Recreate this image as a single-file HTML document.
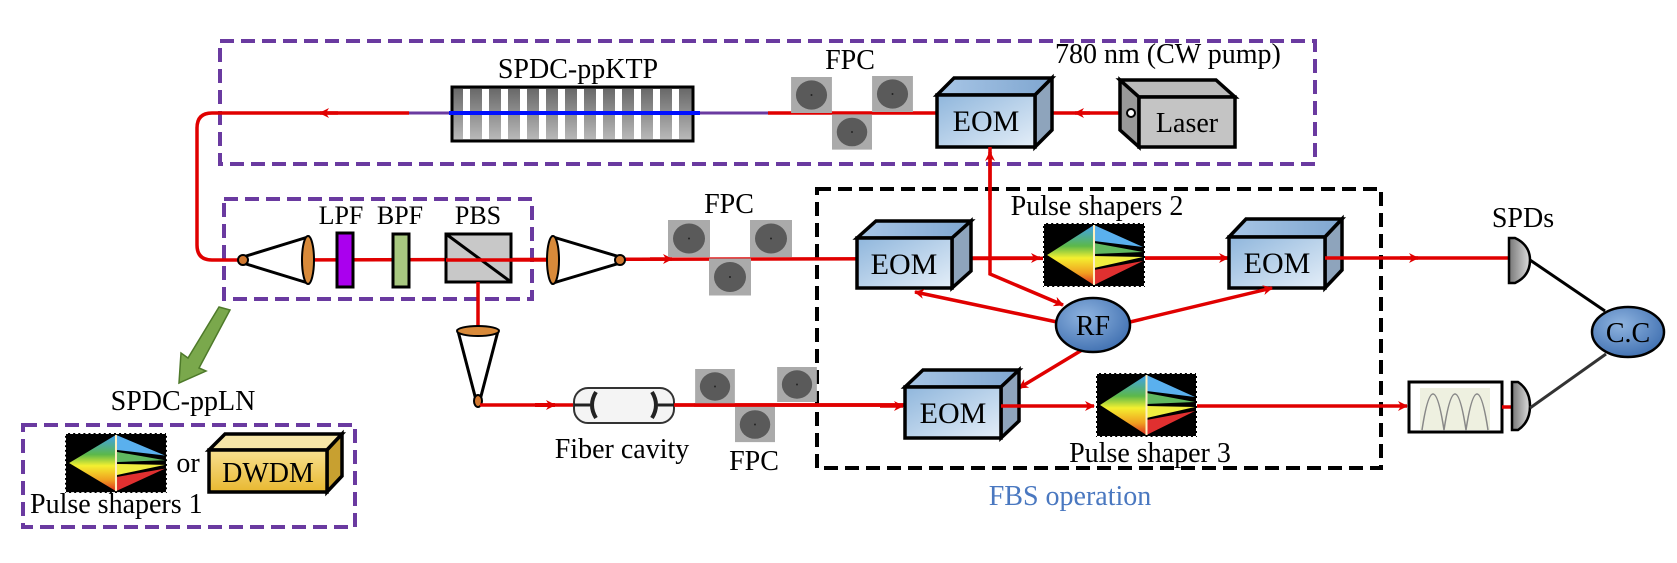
<!DOCTYPE html>
<html><head><meta charset="utf-8"><style>body{margin:0;background:#fff}svg{display:block}</style></head>
<body>
<svg width="1677" height="563" viewBox="0 0 1677 563" xmlns="http://www.w3.org/2000/svg" font-family="'Liberation Serif', 'DejaVu Serif', serif">
<defs>
<linearGradient id="eom" x1="0" y1="0" x2="1" y2="1"><stop offset="0" stop-color="#8fb6dc"/><stop offset="1" stop-color="#e4eef8"/></linearGradient>
<linearGradient id="eomt" x1="0" y1="0" x2="1" y2="0"><stop offset="0" stop-color="#a8c6e6"/><stop offset="1" stop-color="#7fa6d0"/></linearGradient>
<linearGradient id="dia" x1="0" y1="0" x2="0" y2="1"><stop offset="0" stop-color="#3fa0f0"/><stop offset="0.35" stop-color="#5cb84a"/><stop offset="0.55" stop-color="#f4f030"/><stop offset="0.8" stop-color="#f0a020"/><stop offset="1" stop-color="#e03020"/></linearGradient>
<linearGradient id="gry" x1="0" y1="0" x2="0" y2="1"><stop offset="0" stop-color="#666"/><stop offset="1" stop-color="#bbb"/></linearGradient>
<linearGradient id="dw" x1="0" y1="0" x2="0" y2="1"><stop offset="0" stop-color="#f8e090"/><stop offset="1" stop-color="#e8b830"/></linearGradient>
<radialGradient id="blue" cx="0.4" cy="0.35" r="0.7"><stop offset="0" stop-color="#8fb4e0"/><stop offset="1" stop-color="#3f6fb0"/></radialGradient>
<linearGradient id="spd" x1="0" y1="0" x2="1" y2="0"><stop offset="0" stop-color="#777"/><stop offset="1" stop-color="#ddd"/></linearGradient>
<symbol id="shaper" viewBox="0 0 100 64" preserveAspectRatio="none">
<rect x="0" y="0" width="100" height="64" fill="#000" stroke="#fff" stroke-width="2" stroke-dasharray="3 2"/>
<polygon points="4,32 50,2 50,62" fill="url(#dia)"/>
<polygon points="50,2 98,24 50,18" fill="#5ab0ee"/>
<polygon points="50,20 98,29 50,31" fill="#60b860"/>
<polygon points="50,33 98,34 50,45" fill="#f0ee40"/>
<polygon points="50,47 98,38 50,62" fill="#e03030"/>
<line x1="50" y1="2" x2="50" y2="62" stroke="#fff0c0" stroke-width="2"/>
</symbol>
<symbol id="fpc" viewBox="0 0 42 37"><rect width="42" height="37" fill="#aaa"/><ellipse cx="21" cy="18.5" rx="16" ry="15" fill="#5a5a5a"/><circle cx="21" cy="18.5" r="1" fill="#222"/></symbol>
<marker id="ar" markerWidth="10" markerHeight="10" refX="9" refY="5" orient="auto" markerUnits="userSpaceOnUse"><path d="M0,0 L10,5 L0,10 L3,5 Z" fill="#e00000"/></marker>
</defs>

<g fill="none" stroke="#6a3aa0" stroke-width="4" stroke-dasharray="14 7">
<rect x="220" y="41" width="1095" height="123"/>
<rect x="224" y="199" width="308" height="100"/>
<rect x="23" y="425" width="332" height="102"/>
</g>
<rect x="817" y="189" width="564" height="279" fill="none" stroke="#000" stroke-width="4" stroke-dasharray="14 7"/>

<path d="M1120,113 L768,113" stroke="#e00000" stroke-width="3.5" fill="none"/>
<path d="M409,113 L212,113 Q197,113 197,128 L197,245 Q197,260 212,260 L243,260" stroke="#e00000" stroke-width="3.5" fill="none"/>
<line x1="409" y1="113" x2="768" y2="113" stroke="#6a3aa0" stroke-width="3"/>
<path d="M338,113 L320,113" stroke="#e00000" stroke-width="3.5" marker-end="url(#ar)"/>
<path d="M1090,113 L1075,113" stroke="#e00000" stroke-width="3.5" marker-end="url(#ar)"/>
<rect x="452" y="87" width="241" height="54" fill="url(#gry)" stroke="#000" stroke-width="3"/>
<g fill="#fff">
<rect x="463" y="89" width="7" height="50"/><rect x="482" y="89" width="7" height="50"/><rect x="501" y="89" width="7" height="50"/><rect x="520" y="89" width="7" height="50"/><rect x="539" y="89" width="7" height="50"/><rect x="558" y="89" width="7" height="50"/><rect x="577" y="89" width="7" height="50"/><rect x="596" y="89" width="7" height="50"/><rect x="615" y="89" width="7" height="50"/><rect x="634" y="89" width="7" height="50"/><rect x="653" y="89" width="7" height="50"/><rect x="672" y="89" width="7" height="50"/>
</g>
<line x1="449" y1="113" x2="700" y2="113" stroke="#0010ff" stroke-width="4"/>
<text x="578" y="78" font-size="28" text-anchor="middle">SPDC-ppKTP</text>
<use href="#fpc" x="790" y="77" width="43" height="36"/>
<use href="#fpc" x="872" y="76" width="41" height="36"/>
<use href="#fpc" x="832" y="113" width="40" height="38"/>
<text x="850" y="69" font-size="28" text-anchor="middle">FPC</text>
<text x="1055" y="63" font-size="28">780 nm (CW pump)</text>
<polygon points="937,95 954,78 1052,78 1035,95" fill="url(#eomt)" stroke="#000" stroke-width="3.5"/>
<polygon points="1035,95 1052,78 1052,130 1035,147" fill="#8ea4bc" stroke="#000" stroke-width="3.5"/>
<rect x="937" y="95" width="98" height="52" fill="url(#eom)" stroke="#000" stroke-width="3.5"/>
<text x="986" y="131" font-size="30" text-anchor="middle">EOM</text>
<polygon points="1120,80 1139,97 1139,147 1120,130" fill="#999" stroke="#000" stroke-width="3.5"/>
<polygon points="1120,80 1216,80 1235,97 1139,97" fill="#bbb" stroke="#000" stroke-width="3.5"/>
<rect x="1139" y="97" width="96" height="50" fill="#c4c4c4" stroke="#000" stroke-width="3.5"/>
<circle cx="1131" cy="113" r="4" fill="#fff" stroke="#000" stroke-width="2"/>
<text x="1187" y="132" font-size="28" text-anchor="middle">Laser</text>

<line x1="243" y1="260" x2="1229" y2="258" stroke="#e00000" stroke-width="3.5"/>
<polygon points="243,257 308,237 308,283 243,263" fill="#fff" stroke="#000" stroke-width="3"/>
<circle cx="243" cy="260" r="5" fill="#d07830" stroke="#000" stroke-width="2"/>
<ellipse cx="308" cy="260" rx="6" ry="24" fill="#d98a3a" stroke="#000" stroke-width="2"/>
<rect x="337" y="233" width="16" height="54" fill="#aa00ee" stroke="#000" stroke-width="3"/>
<rect x="393" y="234" width="16" height="53" fill="#a8c880" stroke="#000" stroke-width="3"/>
<rect x="446" y="234" width="65" height="48" fill="#c8c8c8" stroke="#000" stroke-width="3"/>
<line x1="446" y1="234" x2="511" y2="282" stroke="#000" stroke-width="3"/>
<line x1="446" y1="260" x2="553" y2="260" stroke="#e00000" stroke-width="3.5"/>
<text x="341" y="224" font-size="26" text-anchor="middle">LPF</text>
<text x="400" y="224" font-size="26" text-anchor="middle">BPF</text>
<text x="478" y="224" font-size="26" text-anchor="middle">PBS</text>
<polygon points="553,237 620,257 620,263 553,283" fill="#fff" stroke="#000" stroke-width="3"/>
<ellipse cx="553" cy="260" rx="6" ry="24" fill="#d98a3a" stroke="#000" stroke-width="2"/>
<circle cx="620" cy="260" r="5" fill="#d07830" stroke="#000" stroke-width="2"/>
<path d="M650,259 L672,259" stroke="#e00000" stroke-width="3.5" marker-end="url(#ar)"/>
<use href="#fpc" x="668" y="220" width="42" height="37"/>
<use href="#fpc" x="750" y="220" width="42" height="37"/>
<use href="#fpc" x="709" y="258" width="42" height="38"/>
<text x="729" y="213" font-size="28" text-anchor="middle">FPC</text>

<path d="M952,258 L1040,258" stroke="#e00000" stroke-width="3.5" marker-end="url(#ar)"/>
<path d="M1145,258 L1228,258" stroke="#e00000" stroke-width="3.5" marker-end="url(#ar)"/>
<polygon points="857,238 876,221 971,221 952,238" fill="url(#eomt)" stroke="#000" stroke-width="3.5"/>
<polygon points="952,238 971,221 971,271 952,288" fill="#8ea4bc" stroke="#000" stroke-width="3.5"/>
<rect x="857" y="238" width="95" height="50" fill="url(#eom)" stroke="#000" stroke-width="3.5"/>
<text x="904" y="274" font-size="30" text-anchor="middle">EOM</text>
<use href="#shaper" x="1043" y="223" width="102" height="64"/>
<text x="1097" y="215" font-size="28" text-anchor="middle">Pulse shapers 2</text>
<polygon points="1229,237 1246,219 1342,219 1325,237" fill="url(#eomt)" stroke="#000" stroke-width="3.5"/>
<polygon points="1325,237 1342,219 1342,270 1325,288" fill="#8ea4bc" stroke="#000" stroke-width="3.5"/>
<rect x="1229" y="237" width="96" height="51" fill="url(#eom)" stroke="#000" stroke-width="3.5"/>
<text x="1277" y="273" font-size="30" text-anchor="middle">EOM</text>
<line x1="1325" y1="258" x2="1509" y2="258" stroke="#e00000" stroke-width="3.5"/>
<path d="M1400,258 L1418,258" stroke="#e00000" stroke-width="3.5" marker-end="url(#ar)"/>
<text x="1523" y="227" font-size="28" text-anchor="middle">SPDs</text>
<path d="M1509,238 L1515,238 Q1530,245 1530,260 Q1530,276 1515,283 L1509,283 Z" fill="url(#spd)" stroke="#000" stroke-width="2.5"/>

<path d="M990,147 L990,274 L1063,305" fill="none" stroke="#e00000" stroke-width="3.5" marker-end="url(#ar)"/>
<path d="M990,200 L990,152" stroke="#e00000" stroke-width="3.5" marker-end="url(#ar)"/>
<path d="M1057,322 L915,292" stroke="#e00000" stroke-width="3.5" marker-end="url(#ar)"/>
<path d="M1130,322 L1272,288" stroke="#e00000" stroke-width="3.5" marker-end="url(#ar)"/>
<path d="M1082,350 L1019,388" stroke="#e00000" stroke-width="3.5" marker-end="url(#ar)"/>
<ellipse cx="1093" cy="325" rx="37" ry="27" fill="url(#blue)" stroke="#000" stroke-width="2.5"/>
<text x="1093" y="335" font-size="28" text-anchor="middle">RF</text>

<line x1="478" y1="282" x2="478" y2="330" stroke="#e00000" stroke-width="3.5"/>
<polygon points="458,331 498,331 480,400 476,400" fill="#fff" stroke="#000" stroke-width="3"/>
<ellipse cx="478" cy="331" rx="21" ry="5" fill="#d98a3a" stroke="#000" stroke-width="2"/>
<ellipse cx="478" cy="401" rx="4" ry="6" fill="#d07830" stroke="#000" stroke-width="2"/>
<line x1="480" y1="405" x2="905" y2="405" stroke="#e00000" stroke-width="3.5"/>
<path d="M535,405 L555,405" stroke="#e00000" stroke-width="4" marker-end="url(#ar)"/>
<rect x="574" y="388" width="100" height="35" rx="14" fill="#f4f4f4" stroke="#333" stroke-width="2"/>
<line x1="574" y1="405" x2="590" y2="405" stroke="#222" stroke-width="3"/>
<line x1="658" y1="405" x2="674" y2="405" stroke="#222" stroke-width="3"/>
<path d="M596,392 Q588,405 596,418 M652,392 Q660,405 652,418" stroke="#222" stroke-width="4" fill="none"/>
<text x="622" y="458" font-size="28" text-anchor="middle">Fiber cavity</text>
<line x1="674" y1="405" x2="905" y2="405" stroke="#e00000" stroke-width="3.5"/>
<use href="#fpc" x="694" y="369" width="42" height="35"/>
<use href="#fpc" x="776" y="367" width="42" height="35"/>
<use href="#fpc" x="735" y="404" width="40" height="41"/>
<line x1="694" y1="405" x2="905" y2="405" stroke="#e00000" stroke-width="3.5"/>
<text x="754" y="470" font-size="28" text-anchor="middle">FPC</text>
<path d="M880,406 L903,406" stroke="#e00000" stroke-width="3.5" marker-end="url(#ar)"/>
<polygon points="905,387 923,370 1019,370 1001,387" fill="url(#eomt)" stroke="#000" stroke-width="3.5"/>
<polygon points="1001,387 1019,370 1019,421 1001,438" fill="#8ea4bc" stroke="#000" stroke-width="3.5"/>
<rect x="905" y="387" width="96" height="51" fill="url(#eom)" stroke="#000" stroke-width="3.5"/>
<text x="953" y="423" font-size="30" text-anchor="middle">EOM</text>
<path d="M1001,406 L1094,406" stroke="#e00000" stroke-width="3.5" marker-end="url(#ar)"/>
<use href="#shaper" x="1096" y="373" width="101" height="64"/>
<text x="1150" y="462" font-size="28" text-anchor="middle">Pulse shaper 3</text>
<line x1="1197" y1="406" x2="1380" y2="406" stroke="#e00000" stroke-width="3.5"/>
<path d="M1380,406 L1407,406" stroke="#e00000" stroke-width="3.5" marker-end="url(#ar)"/>
<rect x="1409" y="382" width="93" height="50" fill="#fff" stroke="#000" stroke-width="3"/>
<rect x="1420" y="388" width="70" height="42" fill="#eef0e0"/>
<path d="M1422,430 Q1433,358 1444,430 Q1455,358 1466,430 Q1477,358 1488,430" fill="none" stroke="#888" stroke-width="1.5"/>
<line x1="1502" y1="407" x2="1512" y2="407" stroke="#e00000" stroke-width="3.5"/>
<path d="M1512,382 L1518,382 Q1530,390 1530,406 Q1530,422 1518,430 L1512,430 Z" fill="url(#spd)" stroke="#000" stroke-width="2.5"/>
<line x1="1530" y1="260" x2="1605" y2="311" stroke="#000" stroke-width="3"/>
<line x1="1530" y1="408" x2="1606" y2="354" stroke="#333" stroke-width="3"/>
<ellipse cx="1628" cy="332" rx="36" ry="25" fill="url(#blue)" stroke="#000" stroke-width="2.5"/>
<text x="1628" y="342" font-size="28" text-anchor="middle">C.C</text>
<text x="1070" y="505" font-size="28" text-anchor="middle" fill="#4a78c0">FBS operation</text>

<polygon points="219,307 230,310 199,368 206,371 179,383 181,353 188,358" fill="#7aa84c" stroke="#4e7a2a" stroke-width="1.5"/>
<text x="183" y="410" font-size="28" text-anchor="middle">SPDC-ppLN</text>
<use href="#shaper" x="65" y="433" width="102" height="60"/>
<text x="188" y="472" font-size="28" text-anchor="middle">or</text>
<polygon points="209,450 225,434 342,434 327,450" fill="#f6e6a8" stroke="#000" stroke-width="3.5"/>
<polygon points="327,450 342,434 342,476 327,492" fill="#c8a030" stroke="#000" stroke-width="3.5"/>
<rect x="209" y="450" width="118" height="42" fill="url(#dw)" stroke="#000" stroke-width="3.5"/>
<text x="268" y="482" font-size="28" text-anchor="middle">DWDM</text>
<text x="30" y="513" font-size="28">Pulse shapers 1</text>
</svg>
</body></html>
